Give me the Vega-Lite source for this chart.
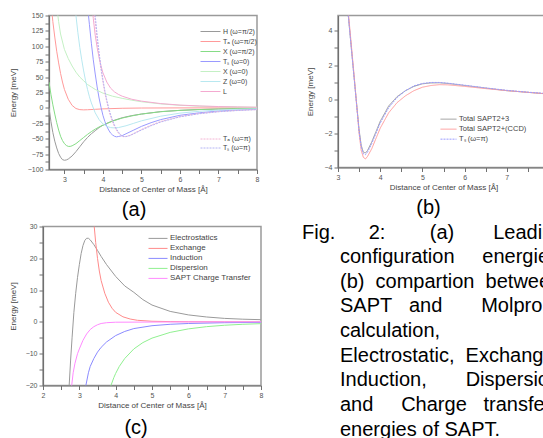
{
"$schema": "https://vega.github.io/schema/vega-lite/v6.json",
"background": "white",
"padding": {"left": 8, "top": 10.5, "right": 0, "bottom": 0},
"config": {
  "font": "Liberation Sans",
  "view": {"stroke": "#9a9a9a", "strokeWidth": 1.5},
  "axis": {"domainColor": "#707070", "domainWidth": 1.2, "tickColor": "#707070", "tickSize": 4, "tickWidth": 1, "labelFontSize": 7, "labelColor": "#555555", "labelPadding": 2, "labelFlush": false, "labelOverlap": false, "titleFontSize": 8, "titleFontWeight": "normal", "titleColor": "#444444", "grid": false},
  "axisX": {"titlePadding": 3},
  "title": {"fontSize": 20, "fontWeight": "normal", "color": "black"},
  "legend": {"labelColor": "#444444", "symbolStrokeWidth": 1, "padding": 0, "rowPadding": 0, "labelOffset": 2, "symbolType": "stroke"}
},
"datasets": {
"a": [
{"s":"H (ω=π/2)","x":2.6,"y":0},{"s":"H (ω=π/2)","x":2.65,"y":-22},{"s":"H (ω=π/2)","x":2.7,"y":-40},{"s":"H (ω=π/2)","x":2.75,"y":-54},{"s":"H (ω=π/2)","x":2.8,"y":-65},{"s":"H (ω=π/2)","x":2.85,"y":-74},{"s":"H (ω=π/2)","x":2.9,"y":-80},{"s":"H (ω=π/2)","x":2.95,"y":-84},{"s":"H (ω=π/2)","x":3.0,"y":-85},{"s":"H (ω=π/2)","x":3.05,"y":-84.5},{"s":"H (ω=π/2)","x":3.1,"y":-83},{"s":"H (ω=π/2)","x":3.2,"y":-78},{"s":"H (ω=π/2)","x":3.3,"y":-71},{"s":"H (ω=π/2)","x":3.4,"y":-63},{"s":"H (ω=π/2)","x":3.5,"y":-55},{"s":"H (ω=π/2)","x":3.6,"y":-48},{"s":"H (ω=π/2)","x":3.7,"y":-42},{"s":"H (ω=π/2)","x":3.8,"y":-37},{"s":"H (ω=π/2)","x":3.9,"y":-32},{"s":"H (ω=π/2)","x":4.0,"y":-28},{"s":"H (ω=π/2)","x":4.25,"y":-21},{"s":"H (ω=π/2)","x":4.5,"y":-16},{"s":"H (ω=π/2)","x":4.75,"y":-12.5},{"s":"H (ω=π/2)","x":5.0,"y":-10},{"s":"H (ω=π/2)","x":5.5,"y":-6},{"s":"H (ω=π/2)","x":6.0,"y":-4},{"s":"H (ω=π/2)","x":6.5,"y":-2.6},{"s":"H (ω=π/2)","x":7.0,"y":-1.8},{"s":"H (ω=π/2)","x":7.5,"y":-1.2},{"s":"H (ω=π/2)","x":8.0,"y":-0.8},
{"s":"Tₐ (ω=π/2)","x":2.66,"y":165},{"s":"Tₐ (ω=π/2)","x":2.7,"y":140},{"s":"Tₐ (ω=π/2)","x":2.75,"y":115},{"s":"Tₐ (ω=π/2)","x":2.8,"y":92},{"s":"Tₐ (ω=π/2)","x":2.85,"y":73},{"s":"Tₐ (ω=π/2)","x":2.9,"y":56},{"s":"Tₐ (ω=π/2)","x":2.95,"y":42},{"s":"Tₐ (ω=π/2)","x":3.0,"y":30},{"s":"Tₐ (ω=π/2)","x":3.1,"y":14},{"s":"Tₐ (ω=π/2)","x":3.2,"y":4},{"s":"Tₐ (ω=π/2)","x":3.3,"y":-1},{"s":"Tₐ (ω=π/2)","x":3.4,"y":-2.8},{"s":"Tₐ (ω=π/2)","x":3.5,"y":-3.2},{"s":"Tₐ (ω=π/2)","x":3.6,"y":-3},{"s":"Tₐ (ω=π/2)","x":3.8,"y":-2.3},{"s":"Tₐ (ω=π/2)","x":4.0,"y":-1.6},{"s":"Tₐ (ω=π/2)","x":4.5,"y":-0.6},{"s":"Tₐ (ω=π/2)","x":5.0,"y":-0.2},{"s":"Tₐ (ω=π/2)","x":6.0,"y":0},{"s":"Tₐ (ω=π/2)","x":8.0,"y":0},
{"s":"X (ω=π/2)","x":2.6,"y":42},{"s":"X (ω=π/2)","x":2.65,"y":22},{"s":"X (ω=π/2)","x":2.7,"y":5},{"s":"X (ω=π/2)","x":2.75,"y":-10},{"s":"X (ω=π/2)","x":2.8,"y":-24},{"s":"X (ω=π/2)","x":2.85,"y":-36},{"s":"X (ω=π/2)","x":2.9,"y":-46},{"s":"X (ω=π/2)","x":2.95,"y":-53},{"s":"X (ω=π/2)","x":3.0,"y":-58},{"s":"X (ω=π/2)","x":3.05,"y":-61},{"s":"X (ω=π/2)","x":3.1,"y":-62.5},{"s":"X (ω=π/2)","x":3.15,"y":-62.5},{"s":"X (ω=π/2)","x":3.2,"y":-61.5},{"s":"X (ω=π/2)","x":3.3,"y":-58},{"s":"X (ω=π/2)","x":3.4,"y":-53},{"s":"X (ω=π/2)","x":3.5,"y":-48},{"s":"X (ω=π/2)","x":3.6,"y":-43},{"s":"X (ω=π/2)","x":3.7,"y":-38.5},{"s":"X (ω=π/2)","x":3.8,"y":-34.5},{"s":"X (ω=π/2)","x":3.9,"y":-31},{"s":"X (ω=π/2)","x":4.0,"y":-28},{"s":"X (ω=π/2)","x":4.25,"y":-21.5},{"s":"X (ω=π/2)","x":4.5,"y":-16.5},{"s":"X (ω=π/2)","x":4.75,"y":-13},{"s":"X (ω=π/2)","x":5.0,"y":-10},{"s":"X (ω=π/2)","x":5.5,"y":-6.2},{"s":"X (ω=π/2)","x":6.0,"y":-4},{"s":"X (ω=π/2)","x":6.5,"y":-2.7},{"s":"X (ω=π/2)","x":7.0,"y":-1.8},{"s":"X (ω=π/2)","x":7.5,"y":-1.2},{"s":"X (ω=π/2)","x":8.0,"y":-0.8},
{"s":"Tₛ (ω=0)","x":3.6,"y":165},{"s":"Tₛ (ω=0)","x":3.65,"y":135},{"s":"Tₛ (ω=0)","x":3.7,"y":105},{"s":"Tₛ (ω=0)","x":3.75,"y":78},{"s":"Tₛ (ω=0)","x":3.8,"y":55},{"s":"Tₛ (ω=0)","x":3.85,"y":34},{"s":"Tₛ (ω=0)","x":3.9,"y":16},{"s":"Tₛ (ω=0)","x":3.95,"y":1},{"s":"Tₛ (ω=0)","x":4.0,"y":-12},{"s":"Tₛ (ω=0)","x":4.05,"y":-22},{"s":"Tₛ (ω=0)","x":4.1,"y":-30},{"s":"Tₛ (ω=0)","x":4.15,"y":-36},{"s":"Tₛ (ω=0)","x":4.2,"y":-41},{"s":"Tₛ (ω=0)","x":4.25,"y":-44},{"s":"Tₛ (ω=0)","x":4.3,"y":-46},{"s":"Tₛ (ω=0)","x":4.35,"y":-47},{"s":"Tₛ (ω=0)","x":4.4,"y":-46.5},{"s":"Tₛ (ω=0)","x":4.5,"y":-45},{"s":"Tₛ (ω=0)","x":4.6,"y":-42},{"s":"Tₛ (ω=0)","x":4.8,"y":-36},{"s":"Tₛ (ω=0)","x":5.0,"y":-30},{"s":"Tₛ (ω=0)","x":5.25,"y":-24},{"s":"Tₛ (ω=0)","x":5.5,"y":-19},{"s":"Tₛ (ω=0)","x":6.0,"y":-12},{"s":"Tₛ (ω=0)","x":6.5,"y":-8},{"s":"Tₛ (ω=0)","x":7.0,"y":-5},{"s":"Tₛ (ω=0)","x":7.5,"y":-3.3},{"s":"Tₛ (ω=0)","x":8.0,"y":-2.2},
{"s":"X (ω=0)","x":2.8,"y":165},{"s":"X (ω=0)","x":2.85,"y":140},{"s":"X (ω=0)","x":2.9,"y":120},{"s":"X (ω=0)","x":3.0,"y":95},{"s":"X (ω=0)","x":3.1,"y":80},{"s":"X (ω=0)","x":3.2,"y":68},{"s":"X (ω=0)","x":3.3,"y":58},{"s":"X (ω=0)","x":3.4,"y":50},{"s":"X (ω=0)","x":3.5,"y":44},{"s":"X (ω=0)","x":3.6,"y":38},{"s":"X (ω=0)","x":3.7,"y":34},{"s":"X (ω=0)","x":3.8,"y":30},{"s":"X (ω=0)","x":4.0,"y":24},{"s":"X (ω=0)","x":4.25,"y":19},{"s":"X (ω=0)","x":4.5,"y":15.5},{"s":"X (ω=0)","x":4.75,"y":12.5},{"s":"X (ω=0)","x":5.0,"y":10},{"s":"X (ω=0)","x":5.5,"y":6.5},{"s":"X (ω=0)","x":6.0,"y":4.2},{"s":"X (ω=0)","x":6.5,"y":2.8},{"s":"X (ω=0)","x":7.0,"y":2},{"s":"X (ω=0)","x":7.5,"y":1.4},{"s":"X (ω=0)","x":8.0,"y":1},
{"s":"Z (ω=0)","x":3.28,"y":165},{"s":"Z (ω=0)","x":3.3,"y":150},{"s":"Z (ω=0)","x":3.35,"y":122},{"s":"Z (ω=0)","x":3.4,"y":98},{"s":"Z (ω=0)","x":3.45,"y":78},{"s":"Z (ω=0)","x":3.5,"y":60},{"s":"Z (ω=0)","x":3.55,"y":44},{"s":"Z (ω=0)","x":3.6,"y":30},{"s":"Z (ω=0)","x":3.65,"y":18},{"s":"Z (ω=0)","x":3.7,"y":8},{"s":"Z (ω=0)","x":3.8,"y":-8},{"s":"Z (ω=0)","x":3.9,"y":-19},{"s":"Z (ω=0)","x":4.0,"y":-26},{"s":"Z (ω=0)","x":4.1,"y":-30},{"s":"Z (ω=0)","x":4.2,"y":-32},{"s":"Z (ω=0)","x":4.3,"y":-32.5},{"s":"Z (ω=0)","x":4.4,"y":-32},{"s":"Z (ω=0)","x":4.6,"y":-29},{"s":"Z (ω=0)","x":4.8,"y":-25},{"s":"Z (ω=0)","x":5.0,"y":-21},{"s":"Z (ω=0)","x":5.5,"y":-13.5},{"s":"Z (ω=0)","x":6.0,"y":-8.5},{"s":"Z (ω=0)","x":6.5,"y":-5.5},{"s":"Z (ω=0)","x":7.0,"y":-3.5},{"s":"Z (ω=0)","x":7.5,"y":-2.3},{"s":"Z (ω=0)","x":8.0,"y":-1.5},
{"s":"L","x":3.72,"y":165},{"s":"L","x":3.75,"y":145},{"s":"L","x":3.8,"y":118},{"s":"L","x":3.85,"y":98},{"s":"L","x":3.9,"y":82},{"s":"L","x":3.95,"y":68},{"s":"L","x":4.0,"y":57},{"s":"L","x":4.1,"y":42},{"s":"L","x":4.2,"y":32},{"s":"L","x":4.3,"y":26},{"s":"L","x":4.4,"y":22},{"s":"L","x":4.5,"y":19},{"s":"L","x":4.75,"y":14},{"s":"L","x":5.0,"y":11},{"s":"L","x":5.5,"y":7},{"s":"L","x":6.0,"y":4.6},{"s":"L","x":6.5,"y":3.2},{"s":"L","x":7.0,"y":2.2},{"s":"L","x":7.5,"y":1.6},{"s":"L","x":8.0,"y":1.1},
{"s":"Tₐ (ω=π)","x":3.75,"y":165},{"s":"Tₐ (ω=π)","x":3.8,"y":140},{"s":"Tₐ (ω=π)","x":3.85,"y":110},{"s":"Tₐ (ω=π)","x":3.9,"y":85},{"s":"Tₐ (ω=π)","x":3.95,"y":62},{"s":"Tₐ (ω=π)","x":4.0,"y":42},{"s":"Tₐ (ω=π)","x":4.05,"y":24},{"s":"Tₐ (ω=π)","x":4.1,"y":10},{"s":"Tₐ (ω=π)","x":4.15,"y":-3},{"s":"Tₐ (ω=π)","x":4.2,"y":-14},{"s":"Tₐ (ω=π)","x":4.25,"y":-23},{"s":"Tₐ (ω=π)","x":4.3,"y":-30},{"s":"Tₐ (ω=π)","x":4.35,"y":-36},{"s":"Tₐ (ω=π)","x":4.4,"y":-41},{"s":"Tₐ (ω=π)","x":4.45,"y":-44},{"s":"Tₐ (ω=π)","x":4.5,"y":-46},{"s":"Tₐ (ω=π)","x":4.55,"y":-47},{"s":"Tₐ (ω=π)","x":4.6,"y":-46.5},{"s":"Tₐ (ω=π)","x":4.7,"y":-44.5},{"s":"Tₐ (ω=π)","x":4.8,"y":-41.5},{"s":"Tₐ (ω=π)","x":5.0,"y":-35},{"s":"Tₐ (ω=π)","x":5.25,"y":-28},{"s":"Tₐ (ω=π)","x":5.5,"y":-22},{"s":"Tₐ (ω=π)","x":6.0,"y":-14},{"s":"Tₐ (ω=π)","x":6.5,"y":-9},{"s":"Tₐ (ω=π)","x":7.0,"y":-6},{"s":"Tₐ (ω=π)","x":7.5,"y":-4},{"s":"Tₐ (ω=π)","x":8.0,"y":-2.7},
{"s":"Tₛ (ω=π)","x":3.78,"y":165},{"s":"Tₛ (ω=π)","x":3.8,"y":150},{"s":"Tₛ (ω=π)","x":3.85,"y":118},{"s":"Tₛ (ω=π)","x":3.9,"y":90},{"s":"Tₛ (ω=π)","x":3.95,"y":66},{"s":"Tₛ (ω=π)","x":4.0,"y":46},{"s":"Tₛ (ω=π)","x":4.05,"y":28},{"s":"Tₛ (ω=π)","x":4.1,"y":13},{"s":"Tₛ (ω=π)","x":4.15,"y":0},{"s":"Tₛ (ω=π)","x":4.2,"y":-11},{"s":"Tₛ (ω=π)","x":4.25,"y":-20},{"s":"Tₛ (ω=π)","x":4.3,"y":-28},{"s":"Tₛ (ω=π)","x":4.35,"y":-34},{"s":"Tₛ (ω=π)","x":4.4,"y":-39},{"s":"Tₛ (ω=π)","x":4.45,"y":-43},{"s":"Tₛ (ω=π)","x":4.5,"y":-45.5},{"s":"Tₛ (ω=π)","x":4.55,"y":-46.5},{"s":"Tₛ (ω=π)","x":4.6,"y":-46.5},{"s":"Tₛ (ω=π)","x":4.7,"y":-45},{"s":"Tₛ (ω=π)","x":4.8,"y":-42},{"s":"Tₛ (ω=π)","x":5.0,"y":-36},{"s":"Tₛ (ω=π)","x":5.25,"y":-29},{"s":"Tₛ (ω=π)","x":5.5,"y":-23},{"s":"Tₛ (ω=π)","x":6.0,"y":-14.5},{"s":"Tₛ (ω=π)","x":6.5,"y":-9.5},{"s":"Tₛ (ω=π)","x":7.0,"y":-6.3},{"s":"Tₛ (ω=π)","x":7.5,"y":-4.2},{"s":"Tₛ (ω=π)","x":8.0,"y":-2.8}
],
"b": [
{"s":"Total SAPT2+3","x":3.18,"y":7},{"s":"Total SAPT2+3","x":3.24,"y":5},{"s":"Total SAPT2+3","x":3.3,"y":3.4},{"s":"Total SAPT2+3","x":3.4,"y":0.8},{"s":"Total SAPT2+3","x":3.5,"y":-1.8},{"s":"Total SAPT2+3","x":3.55,"y":-2.7},{"s":"Total SAPT2+3","x":3.6,"y":-3.1},{"s":"Total SAPT2+3","x":3.65,"y":-3.15},{"s":"Total SAPT2+3","x":3.7,"y":-3.0},{"s":"Total SAPT2+3","x":3.8,"y":-2.5},{"s":"Total SAPT2+3","x":3.9,"y":-1.9},{"s":"Total SAPT2+3","x":4.0,"y":-1.3},{"s":"Total SAPT2+3","x":4.2,"y":-0.4},{"s":"Total SAPT2+3","x":4.4,"y":0.15},{"s":"Total SAPT2+3","x":4.6,"y":0.5},{"s":"Total SAPT2+3","x":4.8,"y":0.75},{"s":"Total SAPT2+3","x":5.0,"y":0.9},{"s":"Total SAPT2+3","x":5.2,"y":0.95},{"s":"Total SAPT2+3","x":5.4,"y":0.96},{"s":"Total SAPT2+3","x":5.6,"y":0.92},{"s":"Total SAPT2+3","x":6.0,"y":0.8},{"s":"Total SAPT2+3","x":6.5,"y":0.65},{"s":"Total SAPT2+3","x":7.0,"y":0.5},{"s":"Total SAPT2+3","x":7.5,"y":0.4},{"s":"Total SAPT2+3","x":8.0,"y":0.3},
{"s":"Total SAPT2+(CCD)","x":3.18,"y":7.2},{"s":"Total SAPT2+(CCD)","x":3.24,"y":5.2},{"s":"Total SAPT2+(CCD)","x":3.3,"y":3.6},{"s":"Total SAPT2+(CCD)","x":3.4,"y":0.9},{"s":"Total SAPT2+(CCD)","x":3.5,"y":-2.0},{"s":"Total SAPT2+(CCD)","x":3.55,"y":-3.0},{"s":"Total SAPT2+(CCD)","x":3.6,"y":-3.4},{"s":"Total SAPT2+(CCD)","x":3.65,"y":-3.5},{"s":"Total SAPT2+(CCD)","x":3.7,"y":-3.35},{"s":"Total SAPT2+(CCD)","x":3.8,"y":-2.9},{"s":"Total SAPT2+(CCD)","x":3.9,"y":-2.3},{"s":"Total SAPT2+(CCD)","x":4.0,"y":-1.7},{"s":"Total SAPT2+(CCD)","x":4.2,"y":-0.8},{"s":"Total SAPT2+(CCD)","x":4.4,"y":-0.2},{"s":"Total SAPT2+(CCD)","x":4.6,"y":0.2},{"s":"Total SAPT2+(CCD)","x":4.8,"y":0.5},{"s":"Total SAPT2+(CCD)","x":5.0,"y":0.7},{"s":"Total SAPT2+(CCD)","x":5.2,"y":0.8},{"s":"Total SAPT2+(CCD)","x":5.4,"y":0.85},{"s":"Total SAPT2+(CCD)","x":5.6,"y":0.84},{"s":"Total SAPT2+(CCD)","x":6.0,"y":0.75},{"s":"Total SAPT2+(CCD)","x":6.5,"y":0.62},{"s":"Total SAPT2+(CCD)","x":7.0,"y":0.5},{"s":"Total SAPT2+(CCD)","x":7.5,"y":0.4},{"s":"Total SAPT2+(CCD)","x":8.0,"y":0.3},
{"s":"Tₛ (ω=π)","x":3.18,"y":7},{"s":"Tₛ (ω=π)","x":3.24,"y":5.0},{"s":"Tₛ (ω=π)","x":3.3,"y":3.4},{"s":"Tₛ (ω=π)","x":3.4,"y":0.75},{"s":"Tₛ (ω=π)","x":3.5,"y":-1.9},{"s":"Tₛ (ω=π)","x":3.55,"y":-2.8},{"s":"Tₛ (ω=π)","x":3.6,"y":-3.2},{"s":"Tₛ (ω=π)","x":3.65,"y":-3.25},{"s":"Tₛ (ω=π)","x":3.7,"y":-3.1},{"s":"Tₛ (ω=π)","x":3.8,"y":-2.6},{"s":"Tₛ (ω=π)","x":3.9,"y":-2.0},{"s":"Tₛ (ω=π)","x":4.0,"y":-1.4},{"s":"Tₛ (ω=π)","x":4.2,"y":-0.5},{"s":"Tₛ (ω=π)","x":4.4,"y":0.1},{"s":"Tₛ (ω=π)","x":4.6,"y":0.5},{"s":"Tₛ (ω=π)","x":4.8,"y":0.78},{"s":"Tₛ (ω=π)","x":5.0,"y":0.92},{"s":"Tₛ (ω=π)","x":5.2,"y":0.98},{"s":"Tₛ (ω=π)","x":5.4,"y":0.98},{"s":"Tₛ (ω=π)","x":5.6,"y":0.94},{"s":"Tₛ (ω=π)","x":6.0,"y":0.82},{"s":"Tₛ (ω=π)","x":6.5,"y":0.66},{"s":"Tₛ (ω=π)","x":7.0,"y":0.52},{"s":"Tₛ (ω=π)","x":7.5,"y":0.41},{"s":"Tₛ (ω=π)","x":8.0,"y":0.32}
],
"c": [
{"s":"Electrostatics","x":2.69,"y":-30},{"s":"Electrostatics","x":2.72,"y":-20},{"s":"Electrostatics","x":2.76,"y":-12},{"s":"Electrostatics","x":2.8,"y":-5},{"s":"Electrostatics","x":2.85,"y":3},{"s":"Electrostatics","x":2.9,"y":9},{"s":"Electrostatics","x":2.95,"y":14},{"s":"Electrostatics","x":3.0,"y":18},{"s":"Electrostatics","x":3.05,"y":21.5},{"s":"Electrostatics","x":3.1,"y":24},{"s":"Electrostatics","x":3.15,"y":25.6},{"s":"Electrostatics","x":3.2,"y":26.3},{"s":"Electrostatics","x":3.25,"y":26.3},{"s":"Electrostatics","x":3.3,"y":25.8},{"s":"Electrostatics","x":3.4,"y":24.3},{"s":"Electrostatics","x":3.5,"y":22.5},{"s":"Electrostatics","x":3.6,"y":20.6},{"s":"Electrostatics","x":3.75,"y":18},{"s":"Electrostatics","x":4.0,"y":14.3},{"s":"Electrostatics","x":4.25,"y":11.3},{"s":"Electrostatics","x":4.5,"y":9.3},{"s":"Electrostatics","x":4.75,"y":7.0},{"s":"Electrostatics","x":5.0,"y":5.3},{"s":"Electrostatics","x":5.5,"y":3.3},{"s":"Electrostatics","x":6.0,"y":2.2},{"s":"Electrostatics","x":6.5,"y":1.55},{"s":"Electrostatics","x":7.0,"y":1.1},{"s":"Electrostatics","x":7.5,"y":0.85},{"s":"Electrostatics","x":8.0,"y":0.7},
{"s":"Exchange","x":3.37,"y":36},{"s":"Exchange","x":3.41,"y":30},{"s":"Exchange","x":3.45,"y":25},{"s":"Exchange","x":3.5,"y":20},{"s":"Exchange","x":3.55,"y":16},{"s":"Exchange","x":3.6,"y":13},{"s":"Exchange","x":3.7,"y":9},{"s":"Exchange","x":3.8,"y":6.2},{"s":"Exchange","x":3.9,"y":4.3},{"s":"Exchange","x":4.0,"y":3},{"s":"Exchange","x":4.2,"y":1.6},{"s":"Exchange","x":4.4,"y":0.9},{"s":"Exchange","x":4.6,"y":0.5},{"s":"Exchange","x":5.0,"y":0.2},{"s":"Exchange","x":5.5,"y":0.1},{"s":"Exchange","x":6.0,"y":0.05},{"s":"Exchange","x":7.0,"y":0},{"s":"Exchange","x":8.0,"y":0},
{"s":"Induction","x":3.14,"y":-28},{"s":"Induction","x":3.18,"y":-20},{"s":"Induction","x":3.25,"y":-16},{"s":"Induction","x":3.3,"y":-14},{"s":"Induction","x":3.4,"y":-11.5},{"s":"Induction","x":3.5,"y":-9.5},{"s":"Induction","x":3.6,"y":-8},{"s":"Induction","x":3.75,"y":-6.3},{"s":"Induction","x":4.0,"y":-4.3},{"s":"Induction","x":4.25,"y":-3.0},{"s":"Induction","x":4.5,"y":-2.1},{"s":"Induction","x":5.0,"y":-1.2},{"s":"Induction","x":5.5,"y":-0.75},{"s":"Induction","x":6.0,"y":-0.5},{"s":"Induction","x":7.0,"y":-0.25},{"s":"Induction","x":8.0,"y":-0.15},
{"s":"Dispersion","x":3.83,"y":-28},{"s":"Dispersion","x":3.87,"y":-20},{"s":"Dispersion","x":3.95,"y":-17.5},{"s":"Dispersion","x":4.0,"y":-16.2},{"s":"Dispersion","x":4.1,"y":-14},{"s":"Dispersion","x":4.25,"y":-11.5},{"s":"Dispersion","x":4.5,"y":-8.5},{"s":"Dispersion","x":4.75,"y":-6.5},{"s":"Dispersion","x":5.0,"y":-5.1},{"s":"Dispersion","x":5.5,"y":-3.3},{"s":"Dispersion","x":6.0,"y":-2.2},{"s":"Dispersion","x":6.5,"y":-1.5},{"s":"Dispersion","x":7.0,"y":-1.05},{"s":"Dispersion","x":7.5,"y":-0.75},{"s":"Dispersion","x":8.0,"y":-0.55},
{"s":"SAPT Charge Transfer","x":2.76,"y":-28},{"s":"SAPT Charge Transfer","x":2.79,"y":-20},{"s":"SAPT Charge Transfer","x":2.83,"y":-16},{"s":"SAPT Charge Transfer","x":2.88,"y":-13},{"s":"SAPT Charge Transfer","x":2.95,"y":-10},{"s":"SAPT Charge Transfer","x":3.0,"y":-8.5},{"s":"SAPT Charge Transfer","x":3.1,"y":-5.8},{"s":"SAPT Charge Transfer","x":3.2,"y":-3.8},{"s":"SAPT Charge Transfer","x":3.3,"y":-2.4},{"s":"SAPT Charge Transfer","x":3.4,"y":-1.5},{"s":"SAPT Charge Transfer","x":3.5,"y":-0.9},{"s":"SAPT Charge Transfer","x":3.6,"y":-0.5},{"s":"SAPT Charge Transfer","x":3.75,"y":-0.25},{"s":"SAPT Charge Transfer","x":4.0,"y":-0.1},{"s":"SAPT Charge Transfer","x":5.0,"y":-0.05},{"s":"SAPT Charge Transfer","x":6.0,"y":0},{"s":"SAPT Charge Transfer","x":8.0,"y":0}
],
"cap": [
{"line":1,"text":"Fig.\u00a0\u00a0\u00a0\u00a0\u00a0\u00a02:\u00a0\u00a0\u00a0\u00a0\u00a0\u00a0\u00a0\u00a0(a)\u00a0\u00a0\u00a0\u00a0\u00a0\u00a0\u00a0Leading"},
{"line":2,"text":"configuration\u00a0\u00a0\u00a0\u00a0\u00a0energies,"},
{"line":3,"text":"(b)\u00a0\u00a0compartion\u00a0\u00a0between"},
{"line":4,"text":"SAPT\u00a0\u00a0\u00a0and\u00a0\u00a0\u00a0\u00a0\u00a0\u00a0\u00a0Molpro"},
{"line":5,"text":"calculation,"},
{"line":6,"text":"Electrostatic,\u00a0\u00a0Exchange,"},
{"line":7,"text":"Induction,\u00a0\u00a0\u00a0\u00a0\u00a0\u00a0\u00a0Dispersion"},
{"line":8,"text":"and\u00a0\u00a0\u00a0\u00a0\u00a0Charge\u00a0\u00a0\u00a0transfer"},
{"line":9,"text":"energies of SAPT."}
]
},
"spacing": 1,
"resolve": {"scale": {"color": "independent", "strokeDash": "independent"}, "legend": {"color": "independent", "strokeDash": "independent"}},
"vconcat": [
{
"spacing": 45,
"resolve": {"scale": {"color": "independent", "strokeDash": "independent"}, "legend": {"color": "independent", "strokeDash": "independent"}},
"hconcat": [
{
"bounds": "flush",
"spacing": 0,
"resolve": {"scale": {"color": "independent", "strokeDash": "independent"}, "legend": {"color": "independent", "strokeDash": "independent"}},
"hconcat": [
{
  "width": 6, "height": 1,
  "view": {"stroke": null},
  "data": {"values": []},
  "mark": "point"
},
{
  "width": 208, "height": 154,
  "title": {"text": "(a)", "orient": "bottom", "frame": "bounds", "offset": 6},
  "data": {"name": "a"},
  "encoding": {
    "x": {"field": "x", "type": "quantitative", "scale": {"domain": [2.6, 8], "nice": false, "zero": false},
          "axis": {"title": "Distance of Center of Mass [Å]", "values": [3,3.5,4,4.5,5,5.5,6,6.5,7,7.5,8], "labelExpr": "datum.value % 1 === 0 ? format(datum.value, 'd') : ''"}},
    "y": {"field": "y", "type": "quantitative", "scale": {"domain": [-100, 150], "nice": false, "zero": false},
          "axis": {"title": "Energy [meV]", "titlePadding": 10, "values": [-100,-87.5,-75,-62.5,-50,-37.5,-25,-12.5,0,12.5,25,37.5,50,62.5,75,87.5,100,112.5,125,137.5,150], "labelExpr": "datum.value % 25 === 0 ? format(datum.value, 'd') : ''"}}
  },
  "layer": [
    {"transform": [{"filter": {"field": "s", "oneOf": ["H (ω=π/2)","Tₐ (ω=π/2)","X (ω=π/2)","Tₛ (ω=0)","X (ω=0)","Z (ω=0)","L"]}}],
     "mark": {"type": "line", "clip": true, "strokeWidth": 1},
     "encoding": {"color": {"field": "s", "type": "nominal",
       "scale": {"domain": ["H (ω=π/2)","Tₐ (ω=π/2)","X (ω=π/2)","Tₛ (ω=0)","X (ω=0)","Z (ω=0)","L"], "range": ["#9a9a9a","#ff9a9a","#86dc86","#9a9aff","#c4f0c4","#b8e8f0","#f4aad0"]},
       "legend": {"title": null, "orient": "none", "legendX": 151, "legendY": 11, "symbolSize": 400, "labelFontSize": 7, "clipHeight": 10}}}},
    {"transform": [{"filter": {"field": "s", "oneOf": ["Tₐ (ω=π)","Tₛ (ω=π)"]}}],
     "mark": {"type": "line", "clip": true, "strokeWidth": 1, "strokeDash": [2, 1]},
     "encoding": {"color": {"field": "s", "type": "nominal",
       "scale": {"domain": ["Tₐ (ω=π)","Tₛ (ω=π)"], "range": ["#f4b4d4","#b4b4f4"]},
       "legend": {"title": null, "orient": "none", "legendX": 151, "legendY": 119, "symbolSize": 400, "labelFontSize": 7, "clipHeight": 9, "symbolDash": [2, 1]}}}}
  ],
  "resolve": {"scale": {"color": "independent"}, "legend": {"color": "independent"}}
}
]
},
{
  "width": 211, "height": 152,
  "title": {"text": "(b)", "orient": "bottom", "frame": "bounds", "offset": 6},
  "data": {"name": "b"},
  "mark": {"type": "line", "clip": true, "strokeWidth": 1},
  "encoding": {
    "x": {"field": "x", "type": "quantitative", "scale": {"domain": [3, 8], "nice": false, "zero": false},
          "axis": {"title": "Distance of Center of Mass [Å]", "values": [3,3.5,4,4.5,5,5.5,6,6.5,7,7.5,8], "labelExpr": "datum.value % 1 === 0 ? format(datum.value, 'd') : ''"}},
    "y": {"field": "y", "type": "quantitative", "scale": {"domain": [-4, 4.9], "nice": false, "zero": false},
          "axis": {"title": "Energy [meV]", "titlePadding": 10, "values": [-4,-3,-2,-1,0,1,2,3,4], "labelExpr": "datum.value % 2 === 0 ? format(datum.value, 'd') : ''"}},
    "color": {"field": "s", "type": "nominal",
      "scale": {"domain": ["Total SAPT2+3","Total SAPT2+(CCD)","Tₛ (ω=π)"], "range": ["#9a9a9a","#ff9a9a","#9a9aff"]},
      "legend": {"title": null, "orient": "none", "legendX": 102, "legendY": 99, "symbolSize": 256, "labelFontSize": 7.5, "clipHeight": 9.3}},
    "strokeDash": {"field": "s", "type": "nominal",
      "scale": {"domain": ["Total SAPT2+3","Total SAPT2+(CCD)","Tₛ (ω=π)"], "range": [[1,0],[1,0],[2,1]]},
      "legend": {"title": null, "orient": "none", "legendX": 102, "legendY": 99, "symbolSize": 256, "labelFontSize": 7.5, "clipHeight": 9.3}}
  }
}
]
},
{
"spacing": 38,
"resolve": {"scale": {"color": "independent", "strokeDash": "independent"}, "legend": {"color": "independent", "strokeDash": "independent"}},
"hconcat": [
{
  "width": 218, "height": 159,
  "title": {"text": "(c)", "orient": "bottom", "frame": "bounds", "offset": 8},
  "data": {"name": "c"},
  "mark": {"type": "line", "clip": true, "strokeWidth": 1},
  "encoding": {
    "x": {"field": "x", "type": "quantitative", "scale": {"domain": [2, 8], "nice": false, "zero": false},
          "axis": {"title": "Distance of Center of Mass [Å]", "values": [2,2.5,3,3.5,4,4.5,5,5.5,6,6.5,7,7.5,8], "labelExpr": "datum.value % 1 === 0 ? format(datum.value, 'd') : ''"}},
    "y": {"field": "y", "type": "quantitative", "scale": {"domain": [-20, 30], "nice": false, "zero": false},
          "axis": {"title": "Energy [meV]", "titlePadding": 8, "values": [-20,-15,-10,-5,0,5,10,15,20,25,30], "labelExpr": "datum.value % 10 === 0 ? format(datum.value, 'd') : ''"}},
    "color": {"field": "s", "type": "nominal",
      "scale": {"domain": ["Electrostatics","Exchange","Induction","Dispersion","SAPT Charge Transfer"], "range": ["#9a9a9a","#ff8a8a","#8a8aff","#90f090","#ff8aff"]},
      "legend": {"title": null, "orient": "none", "legendX": 105, "legendY": 7, "symbolSize": 361, "labelFontSize": 8, "clipHeight": 9.8}}
  }
},
{
  "width": 200, "height": 203,
  "view": {"stroke": null},
  "data": {"name": "cap"},
  "encoding": {
    "y": {"field": "line", "type": "quantitative", "scale": {"domain": [0.75, 9], "reverse": true}, "axis": null},
    "text": {"field": "text"},
    "x": {"value": 0}
  },
  "layer": [
    {"transform": [{"filter": "datum.line == 1"}],
     "mark": {"type": "text", "align": "left", "baseline": "middle", "fontSize": 20, "color": "black"}},
    {"transform": [{"filter": "datum.line > 1"}],
     "mark": {"type": "text", "align": "left", "baseline": "middle", "fontSize": 20, "color": "black", "dx": 38}}
  ]
}
]
}
]
}
